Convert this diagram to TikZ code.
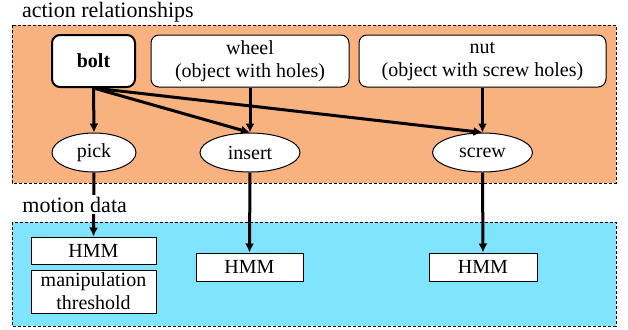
\documentclass[tikz,border=0pt]{standalone}
\usepackage{fontspec}
\setmainfont{Liberation Serif}
\usetikzlibrary{shapes.geometric,arrows.meta}
\definecolor{actionbg}{RGB}{248,178,128}
\definecolor{motionbg}{RGB}{128,228,254}

\begin{document}
\begin{tikzpicture}[x=0.5pt,y=-0.5pt,
    font=\rmfamily\fontsize{10}{11.5}\selectfont,
    area/.style={draw,line width=0.5pt,dash pattern=on 1.5pt off 1pt},
    obj/.style={draw,fill=white,rounded corners=4pt,align=center,
      inner sep=0pt,minimum height=26pt,line width=0.5pt},
    act/.style={draw,ellipse,fill=white,inner sep=0pt,minimum height=19.5pt,
      line width=0.5pt},
    model/.style={draw,fill=white,align=center,inner sep=0pt,line width=0.5pt},
    rel/.style={line width=1.5pt,-{Latex[length=4.5pt,width=4.5pt]}},
    heading/.style={font=\rmfamily\fontsize{11}{13}\selectfont,anchor=base west}]
  \useasboundingbox (0,0) rectangle (628,329);

  % the two layers
  \fill[actionbg] (12,25) rectangle (616,183);
  \draw[area] (12,25) rectangle (616,183);
  \fill[motionbg] (12,222) rectangle (616,326);
  \draw[area] (12,222) rectangle (616,326);
  \node[heading] (acthead) at (15,17) {action relationships};

  % objects
  \node[obj,minimum width=41.5pt,line width=1pt] (bolt) at (93.5,61) {\textbf{bolt}};
  \node[obj,minimum width=99pt] (wheel) at (250,61) {wheel\\(object with holes)};
  \node[obj,minimum width=123.5pt] (nut) at (482.5,61) {nut\\(object with screw holes)};

  % actions
  \node[act,minimum width=42pt] (pick) at (94,152.5) {pick};
  \node[act,minimum width=50pt] (insert) at (250,152.5) {insert};
  \node[act,minimum width=50pt] (screw) at (482.5,152.5) {screw};

  % motion models
  \node[model,minimum width=62.5pt,minimum height=13.5pt] (hmmpick) at (93.5,250.5) {HMM};
  \node[model,minimum width=62.5pt,minimum height=21.5pt] (thresh) at (93.5,291.5)
    {manipulation\\threshold};
  \node[model,minimum width=53.5pt,minimum height=14pt] (hmminsert) at (249.5,267) {HMM};
  \node[model,minimum width=54pt,minimum height=14pt] (hmmscrew) at (483,267) {HMM};

  \draw[rel] (bolt.south) -- (pick.north);
  \draw[rel] (bolt.south) -- (insert.north);
  \draw[rel] (bolt.south) -- (screw.north);
  \draw[rel] (wheel.south) -- (insert.north);
  \draw[rel] (nut.south) -- (screw.north);
  \draw[rel] (pick.south) -- (hmmpick.north);
  \draw[rel] (insert.south) -- (hmminsert.north);
  \draw[rel] (screw.south) -- (hmmscrew.north);

  % label sits over the pick arrow
  \node[heading,fill=white,inner sep=1pt] (mothead) at (20,212) {motion data};
\end{tikzpicture}
\end{document}
